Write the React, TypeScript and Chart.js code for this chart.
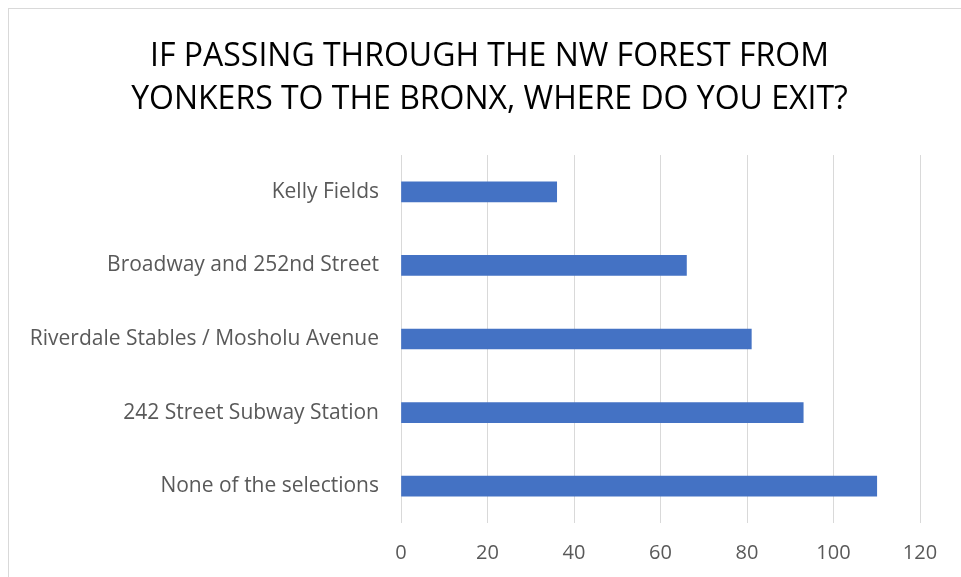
import React, { useEffect, useRef } from "react";
import { Chart, registerables } from "chart.js";

Chart.register(...registerables);

const titleLines = ["IF PASSING THROUGH THE NW FOREST FROM", "YONKERS TO THE BRONX, WHERE DO YOU EXIT?"];
const categories = [
  "Kelly Fields",
  "Broadway and 252nd Street",
  "Riverdale Stables / Mosholu Avenue",
  "242 Street Subway Station",
  "None of the selections",
];
const values = [36, 66, 81, 93, 110];
const xMin = 0;
const xMax = 120;
const xStep = 20;

export default function App() {
  const ref = useRef<HTMLCanvasElement | null>(null);
  useEffect(() => {
    if (!ref.current) return;
    const chart = new Chart(ref.current, {
      type: "bar",
      data: {
        labels: categories,
        datasets: [
          {
            data: values,
            backgroundColor: "#4472c4",
            borderWidth: 0,
            barThickness: 20,
            yAxisID: "y",
          },
        ],
      },
      options: {
        indexAxis: "y",
        animation: false,
        responsive: false,
        layout: { padding: { left: 9, right: 0, top: 0, bottom: 0 } },
        plugins: {
          legend: { display: false },
          tooltip: { enabled: false },
          title: {
            display: true,
            text: titleLines,
            color: "#000000",
            font: { family: "'Open Sans', sans-serif", size: 32, weight: 400, lineHeight: 1.36 },
            padding: { top: 26, bottom: 33 },
          },
        },
        scales: {
          x: {
            min: xMin,
            max: xMax,
            ticks: {
              stepSize: xStep,
              color: "#595959",
              font: { family: "'Open Sans', sans-serif", size: 20 },
              padding: 18,
            },
            grid: { color: "#d9d9d9", lineWidth: 1, drawTicks: false },
            border: { display: false },
            afterFit: (s: any) => {
              s.height = 568 - 514;
            },
          },
          y: {
            ticks: {
              color: "#595959",
              font: { family: "'Open Sans', sans-serif", size: 21 },
              padding: 22,
            },
            grid: { display: false, drawTicks: false },
            border: { display: false },
            afterFit: (s: any) => {
              s.width = 383;
            },
          },
          yRight: {
            type: "category",
            position: "right",
            display: true,
            ticks: { display: false },
            grid: { display: false, drawTicks: false },
            border: { display: false },
            afterFit: (s: any) => {
              s.width = 41;
            },
          },
        },
      },
    });
    return () => chart.destroy();
  }, []);
  return (
    <div
      style={{
        position: "fixed",
        left: 8,
        top: 8,
        width: 953,
        height: 569,
        borderTop: "1px solid #d9d9d9",
        borderLeft: "1px solid #d9d9d9",
        boxSizing: "border-box",
        background: "#fff",
        overflow: "hidden",
      }}
    >
      <canvas ref={ref} width={952} height={568} style={{ display: "block" }} />
    </div>
  );
}
